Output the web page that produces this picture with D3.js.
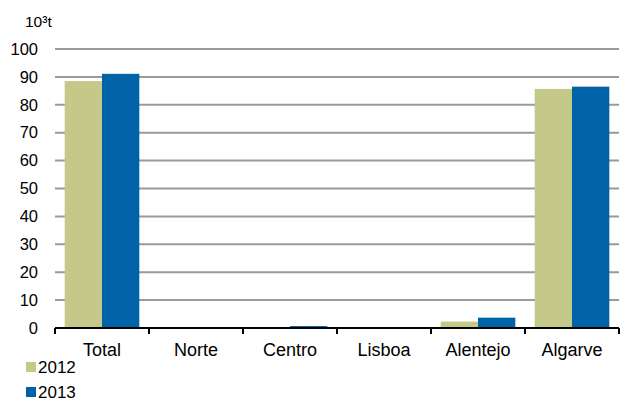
<!DOCTYPE html>
<html>
<head>
<meta charset="utf-8">
<script src="https://cdn.jsdelivr.net/npm/d3@7"></script>
<style>
  html, body { margin: 0; padding: 0; background: #fff; }
  svg text { font-family: "Liberation Sans", Arial, sans-serif; fill: #000; }
</style>
</head>
<body>
<svg id="chart" width="621" height="403"></svg>
<script>
// Regions and yearly values (10³ t)
const categories = ["Total", "Norte", "Centro", "Lisboa", "Alentejo", "Algarve"];
const seriesNames = ["2012", "2013"];
const values2012 = [88.5, 0, 0.3, 0, 2.3, 85.7];
const values2013 = [91.1, 0, 0.7, 0, 3.7, 86.5];
const yTicks = [0, 10, 20, 30, 40, 50, 60, 70, 80, 90, 100];
const unitLabel = "10³t";
const colors = ["#c4c98a", "#0063a8"];

const svg = d3.select("#chart");
const margin = { left: 55, right: 2, top: 49, bottom: 75 };
const width = 621, height = 403;
const plotW = width - margin.left - margin.right;
const plotH = height - margin.top - margin.bottom;

const x = d3.scaleBand().domain(categories).range([0, plotW]).paddingInner(0.206).paddingOuter(0.103);
const xBand = d3.scaleBand().domain(categories).range([0, plotW]);
const xs = d3.scaleBand().domain(seriesNames).range([0, x.bandwidth()]);
const y = d3.scaleLinear().domain([0, 100]).range([plotH, 0]);

const g = svg.append("g").attr("transform", `translate(${margin.left},${margin.top})`);

// Horizontal gridlines
g.append("g").selectAll("line").data(yTicks.filter(d => d > 0)).join("line")
  .attr("x1", 0).attr("x2", plotW)
  .attr("y1", d => y(d)).attr("y2", d => y(d))
  .attr("stroke", "#9a9a9a").attr("stroke-width", 2);

// Y tick labels
g.append("g").selectAll("text").data(yTicks).join("text")
  .attr("x", -17).attr("y", d => y(d)).attr("dy", "0.35em")
  .attr("text-anchor", "end").style("font-size", "16.5px")
  .text(d => d);

// Unit label
svg.append("text").attr("x", 25).attr("y", 27).style("font-size", "15.5px").text(unitLabel);

// Bars
const series = [values2012, values2013];
const groups = g.append("g").selectAll("g").data(categories).join("g")
  .attr("transform", d => `translate(${x(d)},0)`);
groups.selectAll("rect")
  .data((c, i) => seriesNames.map((s, k) => ({ s, v: series[k][i] })))
  .join("rect")
  .attr("x", d => xs(d.s))
  .attr("width", xs.bandwidth())
  .attr("y", d => y(d.v))
  .attr("height", d => plotH - y(d.v))
  .attr("fill", (d, k) => colors[k]);

// X axis line and tick marks at category boundaries
g.append("line").attr("x1", 0).attr("x2", plotW).attr("y1", plotH).attr("y2", plotH)
  .attr("stroke", "#000").attr("stroke-width", 2);
const boundaries = categories.map(c => xBand(c)).concat([plotW]);
g.append("g").selectAll("line").data(boundaries).join("line")
  .attr("x1", d => d).attr("x2", d => d)
  .attr("y1", plotH).attr("y2", plotH + 6)
  .attr("stroke", "#000").attr("stroke-width", 2);

// Category labels
g.append("g").selectAll("text").data(categories).join("text")
  .attr("x", d => xBand(d) + xBand.bandwidth() / 2)
  .attr("y", plotH + 28)
  .attr("text-anchor", "middle").style("font-size", "18px")
  .text(d => d);

// Legend
const legend = svg.append("g").selectAll("g").data(seriesNames).join("g")
  .attr("transform", (d, i) => `translate(26,${362 + i * 25})`);
legend.append("rect").attr("width", 10).attr("height", 10).attr("fill", (d, i) => colors[i]);
legend.append("text").attr("x", 12).attr("y", 11).style("font-size", "17px").text(d => d);
</script>
</body>
</html>
